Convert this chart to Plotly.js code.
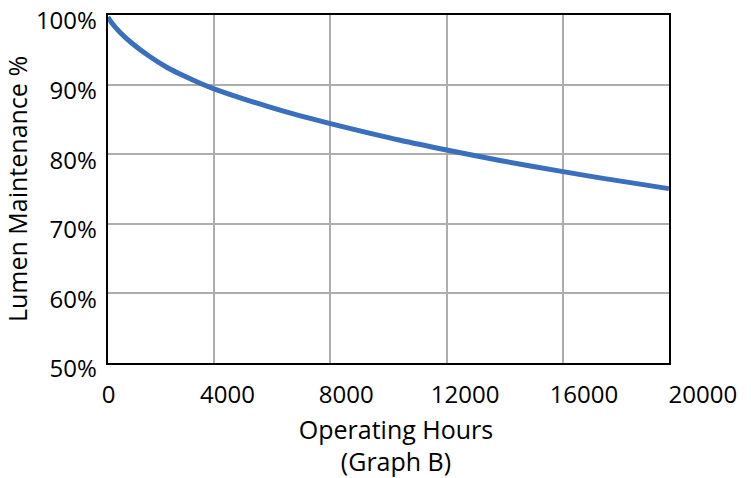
<!DOCTYPE html>
<html>
<head>
<meta charset="utf-8">
<script src="https://cdn.plot.ly/plotly-3.0.1.min.js"></script>
<style>html,body{margin:0;padding:0;background:#fff;}#chart{width:751px;height:478px;}</style>
</head>
<body>
<div id="chart"></div>
<script>
// Data
const hours = [350, 480, 770, 1220, 1800, 2370, 2940, 3520, 4000, 5810, 6970, 8000, 10400, 12000, 13830, 16000, 17270, 19640];
const lumenPct = [99.7, 98.9, 97.5, 95.8, 94.0, 92.5, 91.3, 90.2, 89.4, 86.9, 85.5, 84.4, 82.0, 80.6, 79.1, 77.5, 76.6, 75.05];
const gridHours = [4000, 8000, 12000, 16000];
const xTickVals = [0, 4000, 8000, 12000, 16000, 20000];
const xTickText = ['0', '4000', '8000', '12000', '16000', '20000'];
const yTickVals = [50, 60, 70, 80, 90, 100];
const yTickText = ['50%', '60%', '70%', '80%', '90%', '100%'];

const FONT = '"Open Sans", "DejaVu Sans", sans-serif';

const traces = [
  {
    x: hours, y: lumenPct, type: 'scatter', mode: 'lines',
    line: {color: '#3A6FBE', width: 5, shape: 'spline', smoothing: 0.8},
    xaxis: 'x', yaxis: 'y', showlegend: false, hoverinfo: 'x+y'
  },
  {
    x: xTickVals, y: xTickVals.map(() => 50), type: 'scatter', mode: 'markers',
    marker: {opacity: 0, size: 1}, xaxis: 'x2', yaxis: 'y2', showlegend: false, hoverinfo: 'skip'
  }
];

const layout = {
  width: 751, height: 478,
  margin: {l: 72, r: 31, t: 15, b: 115, pad: 0},
  paper_bgcolor: '#ffffff',
  plot_bgcolor: 'rgba(0,0,0,0)',
  font: {family: FONT, color: '#000000', size: 24},
  showlegend: false,
  xaxis: {
    domain: [0.0551, 0.9213],
    range: [344, 19644],
    anchor: 'y',
    tickmode: 'array', tickvals: gridHours,
    showticklabels: false, ticks: '',
    showgrid: true, gridcolor: '#ADADAD', gridwidth: 2,
    zeroline: false,
    showline: true, linecolor: '#000000', linewidth: 2, mirror: true
  },
  yaxis: {
    domain: [0, 1],
    range: [49.999, 100.001],
    anchor: 'x',
    tickmode: 'array', tickvals: yTickVals, ticktext: yTickText,
    ticks: '', ticklabelstandoff: 4, ticklabelshift: 6, ticklabeloverflow: 'allow',
    tickfont: {family: FONT, size: 24, color: '#000'},
    showgrid: true, gridcolor: '#ADADAD', gridwidth: 2,
    zeroline: false,
    showline: true, linecolor: '#000000', linewidth: 2, mirror: true,
    title: {text: 'Lumen Maintenance %', font: {family: FONT, size: 25, color: '#000'}, standoff: 10}
  },
  xaxis2: {
    domain: [0, 1],
    range: [-1232, 20579],
    anchor: 'y2',
    tickmode: 'array', tickvals: xTickVals, ticktext: xTickText,
    ticks: '', ticklabelstandoff: 15,
    tickfont: {family: FONT, size: 24, color: '#000'},
    showgrid: false, zeroline: false, showline: false,
    title: {text: 'Operating Hours<br>(Graph B)', font: {family: FONT, size: 25, color: '#000'}, standoff: 13}
  },
  yaxis2: {
    domain: [0, 1], range: [49.999, 100.001], anchor: 'x2', visible: false
  }
};

Plotly.newPlot('chart', traces, layout, {displayModeBar: false, staticPlot: true});
</script>
</body>
</html>
